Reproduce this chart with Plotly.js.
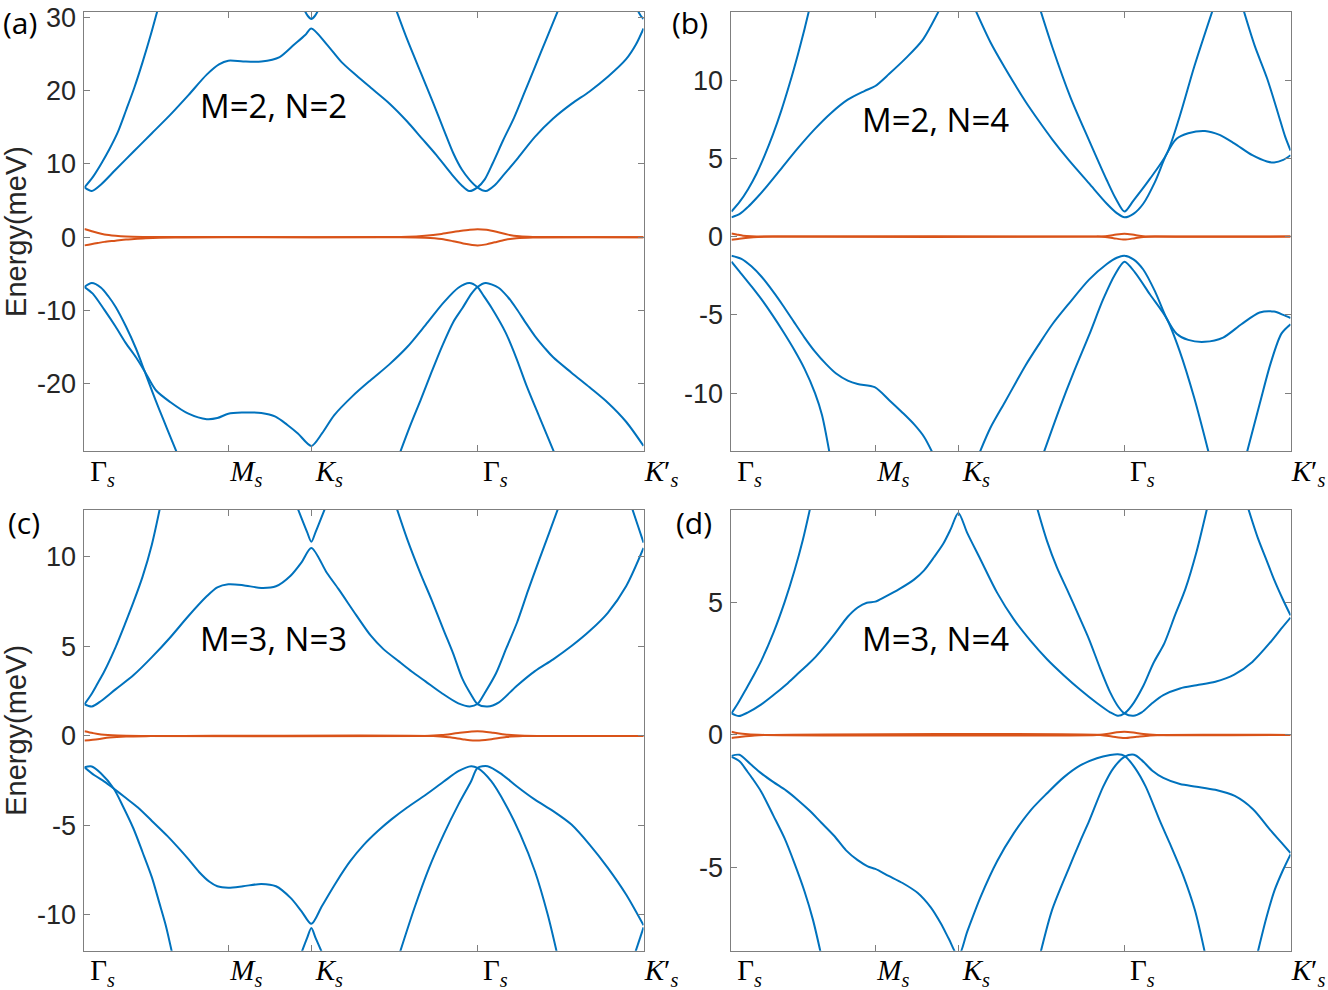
<!DOCTYPE html>
<html>
<head>
<meta charset="utf-8">
<script src="https://cdn.plot.ly/plotly-3.0.1.min.js"></script>
<style>
  html, body { margin: 0; padding: 0; background: #ffffff; }
  #chart { width: 1328px; height: 990px; }
</style>
</head>
<body>
<div id="chart"></div>
<script>
// High-symmetry path: Γs -> Ms -> Ks -> Γs -> K's (path length units)
const kPos = [0, 0.866, 1.366, 2.366, 3.366];
const kLabels = [
  'Γ<sub><i>s</i></sub>',
  '<i>M</i><sub><i>s</i></sub>',
  '<i>K</i><sub><i>s</i></sub>',
  'Γ<sub><i>s</i></sub>',
  '<i>K</i>′<sub><i>s</i></sub>'
];

// Each band is a list of segments, each segment a list of [k, E(meV)] pairs.

// ---------- (a) M=2, N=2 ----------
const aCondA = [[
  [0,6.8],[0.044,6.3],[0.1,7.2],[0.187,9.2],[0.296,11.7],[0.406,14.2],[0.516,16.7],[0.626,19.4],[0.736,22.2],[0.81,23.6],[0.866,24.1],[0.955,24.0],[1.065,24.0],[1.175,24.6],[1.263,26.3],[1.329,27.6],[1.366,28.5],
  [1.46,26.3],[1.548,23.9],[1.636,22.1],[1.724,20.4],[1.834,18.3],[1.943,15.8],[2.031,13.5],[2.119,11.2],[2.207,8.7],[2.27,7.1],[2.317,6.3],[2.366,6.8],
  [2.41,7.9],[2.458,10.1],[2.52,13.2],[2.586,16.3],[2.65,19.8],[2.713,23.3],[2.78,27.0],[2.852,31.0]
]];
const aCondB = [
  [[0,6.8],[0.05,8.2],[0.1,10.0],[0.15,12.0],[0.2,14.3],[0.25,17.3],[0.3,20.4],[0.35,23.9],[0.4,27.7],[0.44,31.0]],
  [[1.322,31.1],[1.345,30.2],[1.366,29.8],[1.387,30.2],[1.41,31.1]],
  [[1.877,31.0],[1.943,27.0],[2.026,22.4],[2.1,18.3],[2.163,14.7],[2.22,11.5],[2.273,9.2],[2.32,7.8],[2.366,6.8],
   [2.416,6.3],[2.47,7.1],[2.52,8.4],[2.602,10.6],[2.712,13.7],[2.822,16.2],[2.932,18.2],[3.041,19.9],[3.151,21.9],[3.261,24.3],[3.32,26.3],[3.366,28.5]],
  [[3.33,31.0],[3.35,30.2],[3.366,29.8]]
];
const aValA = [
  [[0,-6.8],[0.044,-6.26],[0.1,-6.9],[0.145,-8.1],[0.187,-9.5],[0.25,-12.2],[0.31,-15.2],[0.362,-18.3],[0.41,-21.2],[0.45,-23.5],[0.5,-26.3],[0.556,-29.4]],
  [[1.9,-29.4],[1.96,-25.8],[2.026,-22.1],[2.09,-18.4],[2.153,-14.9],[2.22,-11.6],[2.275,-9.7],[2.33,-7.7],[2.366,-6.8],
   [2.416,-6.26],[2.493,-6.9],[2.55,-8.2],[2.602,-9.8],[2.66,-11.8],[2.712,-13.5],[2.77,-15.1],[2.822,-16.4],[2.932,-18.5],[3.041,-20.5],[3.151,-22.6],[3.261,-25.2],[3.366,-28.5]]
];
const aValB = [
  [[0,-6.8],[0.05,-7.7],[0.119,-9.9],[0.187,-12.2],[0.247,-14.4],[0.31,-16.4],[0.362,-18.3],[0.43,-20.9],[0.516,-22.5],[0.626,-24.1],[0.736,-24.85],[0.8,-24.7],[0.866,-24.1],[0.95,-23.95],[1.065,-24.0],[1.15,-24.5],[1.22,-25.6],[1.285,-26.8],[1.366,-28.5],
   [1.43,-26.8],[1.504,-24.3],[1.614,-21.7],[1.724,-19.5],[1.834,-17.4],[1.943,-15.0],[2.053,-12.0],[2.163,-8.9],[2.251,-6.9],[2.317,-6.26],[2.366,-6.8],
   [2.4,-7.9],[2.45,-9.6],[2.535,-13.0],[2.6,-16.5],[2.662,-20.3],[2.74,-24.6],[2.828,-29.4]]
];
const aFlat1 = [[
  [0,1.12],[0.04,0.85],[0.077,0.6],[0.12,0.38],[0.187,0.2],[0.25,0.1],[0.35,0.04],[0.5,0.015],[1.0,0.01],[1.8,0.01],[1.95,0.05],[2.05,0.2],[2.15,0.45],[2.25,0.8],[2.32,1.02],[2.366,1.1],[2.42,1.02],[2.48,0.75],[2.55,0.35],[2.62,0.12],[2.7,0.03],[2.8,0.01],[3.366,0.0]
]];
const aFlat2 = [[
  [0,-1.12],[0.04,-0.95],[0.08,-0.8],[0.12,-0.64],[0.187,-0.48],[0.25,-0.32],[0.3,-0.25],[0.37,-0.15],[0.45,-0.08],[0.6,-0.03],[1.0,-0.01],[1.9,-0.01],[2.05,-0.08],[2.15,-0.25],[2.22,-0.55],[2.28,-0.85],[2.366,-1.12],[2.42,-0.98],[2.47,-0.7],[2.535,-0.35],[2.6,-0.14],[2.7,-0.03],[3.366,0]
]];

// ---------- (b) M=2, N=4 ----------
const bCond1 = [
  [[0,1.23],[0.05,1.45],[0.1,1.9],[0.15,2.45],[0.2,3.05],[0.3,4.35],[0.4,5.65],[0.5,6.85],[0.6,7.9],[0.7,8.75],[0.8,9.3],[0.866,9.62],[0.95,10.4],[1.05,11.4],[1.15,12.55],[1.25,14.45]],
  [[1.472,14.4],[1.56,12.4],[1.645,10.8],[1.713,9.6],[1.772,8.6],[1.85,7.4],[1.932,6.2],[2.03,4.9],[2.153,3.4],[2.26,2.1],[2.32,1.5],[2.366,1.23],
   [2.42,1.45],[2.479,2.1],[2.55,3.5],[2.621,5.3],[2.68,6.25],[2.75,6.6],[2.851,6.75],[2.939,6.5],[3.027,5.96],[3.136,5.2],[3.224,4.8],[3.267,4.74],[3.322,4.9],[3.366,5.2]]
];
const bCond2 = [
  [[0,1.6],[0.05,2.23],[0.1,3.03],[0.15,4.0],[0.2,5.19],[0.25,6.53],[0.3,8.05],[0.35,9.76],[0.4,11.64],[0.44,13.27],[0.47,14.58]],
  [[1.862,14.4],[1.932,12.1],[2.041,8.9],[2.151,6.2],[2.26,3.6],[2.315,2.4],[2.366,1.6],[2.42,2.3],[2.52,3.7],[2.621,5.3],[2.698,7.66],[2.786,10.85],[2.895,14.4]],
  [[3.085,14.4],[3.15,12.2],[3.225,10.1],[3.29,7.9],[3.333,6.4],[3.366,5.5]]
];
const bVal1 = [
  [[0,-1.22],[0.06,-1.42],[0.12,-1.9],[0.18,-2.55],[0.25,-3.5],[0.31,-4.4],[0.376,-5.45],[0.44,-6.45],[0.503,-7.35],[0.57,-8.15],[0.63,-8.75],[0.7,-9.2],[0.76,-9.42],[0.862,-9.62],[0.95,-10.45],[1.03,-11.25],[1.1,-12.0],[1.16,-12.8],[1.21,-13.8]],
  [[1.494,-13.8],[1.56,-12.2],[1.645,-10.6],[1.713,-9.3],[1.772,-8.2],[1.85,-6.9],[1.932,-5.6],[2.03,-4.3],[2.153,-2.75],[2.26,-1.75],[2.32,-1.35],[2.366,-1.22],
   [2.42,-1.45],[2.479,-2.1],[2.55,-3.5],[2.621,-5.25],[2.68,-6.2],[2.75,-6.6],[2.85,-6.72],[2.96,-6.45],[3.07,-5.6],[3.18,-4.85],[3.267,-4.79],[3.322,-5.0],[3.366,-5.2]]
];
const bVal2 = [
  [[0,-1.6],[0.05,-2.25],[0.122,-3.2],[0.18,-4.0],[0.249,-5.05],[0.31,-6.05],[0.376,-7.2],[0.44,-8.45],[0.503,-10.0],[0.545,-11.4],[0.59,-13.8]],
  [[1.88,-13.8],[1.975,-11.0],[2.063,-8.6],[2.153,-6.3],[2.238,-4.0],[2.31,-2.4],[2.366,-1.6],[2.43,-2.3],[2.52,-3.7],[2.621,-5.25],[2.698,-7.3],[2.786,-10.3],[2.873,-13.8]],
  [[3.103,-13.8],[3.18,-10.7],[3.246,-8.1],[3.311,-6.2],[3.366,-5.6]]
];
const bFlat1 = [[
  [0,0.2],[0.03,0.14],[0.07,0.06],[0.12,0.02],[0.2,0.0],[2.2,0.0],[2.25,0.03],[2.3,0.1],[2.366,0.19],[2.43,0.1],[2.48,0.03],[2.55,0.0],[3.366,0.0]
]];
const bFlat2 = [[
  [0,-0.2],[0.04,-0.15],[0.1,-0.07],[0.16,-0.02],[0.25,0.0],[2.2,0.0],[2.25,-0.03],[2.3,-0.1],[2.366,-0.19],[2.43,-0.1],[2.48,-0.03],[2.55,0.0],[3.366,0.0]
]];

// ---------- (c) M=3, N=3 ----------
const cCondA = [[
  [0,1.77],[0.044,1.64],[0.1,1.95],[0.187,2.6],[0.296,3.4],[0.406,4.4],[0.516,5.5],[0.626,6.7],[0.736,7.8],[0.80,8.3],[0.866,8.47],[0.955,8.42],[1.065,8.27],[1.153,8.36],[1.241,8.95],[1.307,9.7],[1.366,10.5],
  [1.46,9.1],[1.53,8.2],[1.636,6.75],[1.724,5.6],[1.8,4.85],[1.895,4.15],[1.97,3.6],[2.053,3.05],[2.15,2.4],[2.251,1.82],[2.32,1.65],[2.366,1.78],
  [2.41,2.4],[2.478,3.5],[2.54,4.9],[2.605,6.35],[2.67,8.1],[2.732,9.7],[2.8,11.4],[2.855,12.8]
]];
const cCondB = [
  [[0,1.77],[0.04,2.3],[0.077,2.9],[0.119,3.6],[0.187,4.95],[0.246,6.3],[0.296,7.5],[0.35,8.9],[0.406,10.7],[0.456,12.8]],
  [[1.28,12.8],[1.34,11.4],[1.366,10.85],[1.392,11.4],[1.452,12.8]],
  [[1.877,12.8],[1.943,11.0],[2.022,9.1],[2.09,7.6],[2.163,5.9],[2.22,4.6],[2.275,3.2],[2.328,2.3],[2.366,1.78],
   [2.427,1.64],[2.493,1.86],[2.602,2.79],[2.712,3.62],[2.822,4.28],[2.932,5.02],[3.041,5.86],[3.151,6.88],[3.261,8.36],[3.366,10.5]],
  [[3.294,12.8],[3.33,11.8],[3.366,10.8]]
];
const cValA = [
  [[0,-1.75],[0.044,-1.71],[0.1,-2.1],[0.176,-2.94],[0.23,-3.9],[0.296,-5.2],[0.35,-6.5],[0.406,-7.9],[0.45,-9.3],[0.49,-10.6],[0.527,-12.1]],
  [[1.307,-12.1],[1.34,-11.3],[1.366,-10.73],[1.392,-11.3],[1.43,-12.1]],
  [[1.899,-12.1],[1.987,-9.6],[2.075,-7.37],[2.163,-5.5],[2.251,-3.84],[2.328,-2.53],[2.366,-1.79],
   [2.427,-1.69],[2.515,-2.16],[2.602,-2.81],[2.712,-3.56],[2.822,-4.2],[2.932,-4.95],[3.041,-6.07],[3.151,-7.37],[3.261,-8.86],[3.366,-10.58]],
  [[3.316,-12.1],[3.366,-10.7]]
];
const cValB = [[
  [0,-1.75],[0.06,-2.2],[0.12,-2.55],[0.176,-2.94],[0.24,-3.4],[0.322,-4.0],[0.406,-4.75],[0.5,-5.6],[0.57,-6.3],[0.627,-6.9],[0.69,-7.6],[0.753,-8.15],[0.8,-8.4],[0.866,-8.48],[0.955,-8.4],[1.065,-8.27],[1.153,-8.4],[1.241,-9.05],[1.307,-9.8],[1.366,-10.5],
  [1.43,-9.5],[1.514,-8.2],[1.6,-7.0],[1.68,-6.1],[1.768,-5.3],[1.85,-4.65],[1.943,-4.0],[2.053,-3.3],[2.163,-2.55],[2.251,-1.97],[2.328,-1.69],[2.366,-1.79],
  [2.449,-2.53],[2.536,-3.84],[2.624,-5.5],[2.712,-7.56],[2.789,-9.98],[2.844,-12.1]
]];
const cFlat1 = [[
  [0,0.26],[0.05,0.16],[0.1,0.08],[0.2,0.02],[0.35,0.0],[2.05,0.0],[2.15,0.05],[2.25,0.16],[2.366,0.26],[2.46,0.18],[2.55,0.06],[2.65,0.01],[2.8,0],[3.366,0]
]];
const cFlat2 = [[
  [0,-0.26],[0.08,-0.18],[0.15,-0.09],[0.25,-0.03],[0.4,-0.01],[0.6,0],[2.1,0],[2.2,-0.08],[2.29,-0.2],[2.366,-0.26],[2.45,-0.18],[2.54,-0.06],[2.64,-0.01],[2.8,0],[3.366,0]
]];

// ---------- (d) M=3, N=4 ----------
const dCondA = [[
  [0,0.81],[0.045,0.71],[0.1,0.85],[0.18,1.15],[0.253,1.5],[0.33,1.9],[0.399,2.3],[0.46,2.65],[0.508,2.95],[0.57,3.4],[0.633,3.9],[0.7,4.45],[0.76,4.8],[0.815,4.98],[0.866,5.02],[0.924,5.2],[1.012,5.5],[1.099,5.85],[1.16,6.2],[1.22,6.7],[1.275,7.2],[1.32,7.75],[1.366,8.36],
  [1.42,7.6],[1.5,6.6],[1.6,5.35],[1.7,4.35],[1.8,3.55],[1.9,2.85],[2.0,2.25],[2.1,1.7],[2.2,1.2],[2.28,0.85],[2.326,0.72],[2.366,0.81],
  [2.41,1.1],[2.48,1.85],[2.54,2.7],[2.606,3.45],[2.67,4.5],[2.733,5.5],[2.8,6.9],[2.864,8.55]
]];
const dCondB = [
  [[0,0.81],[0.04,1.2],[0.09,1.75],[0.13,2.2],[0.18,2.8],[0.253,3.85],[0.32,5.0],[0.38,6.2],[0.43,7.35],[0.474,8.55]],
  [[1.84,8.55],[1.9,7.3],[1.96,6.3],[2.026,5.4],[2.09,4.5],[2.153,3.6],[2.22,2.5],[2.28,1.6],[2.33,1.05],[2.366,0.81],
   [2.42,0.72],[2.47,0.85],[2.534,1.2],[2.6,1.5],[2.7,1.75],[2.8,1.87],[2.913,2.0],[3.027,2.27],[3.136,2.75],[3.246,3.5],[3.31,4.0],[3.366,4.42]],
  [[3.11,8.55],[3.17,7.4],[3.22,6.6],[3.267,5.85],[3.32,5.1],[3.366,4.5]]
];
const dValA = [[
  [0,-0.79],[0.048,-0.75],[0.114,-1.1],[0.18,-1.45],[0.253,-1.78],[0.33,-2.1],[0.399,-2.45],[0.47,-2.85],[0.54,-3.3],[0.618,-3.8],[0.69,-4.35],[0.76,-4.72],[0.82,-4.95],[0.866,-5.05],[0.946,-5.31],[1.03,-5.58],[1.12,-5.95],[1.2,-6.5],[1.26,-7.1],[1.31,-7.7],[1.366,-8.34],
  [1.42,-7.4],[1.5,-6.1],[1.6,-4.75],[1.7,-3.7],[1.8,-2.85],[1.9,-2.2],[2.0,-1.6],[2.1,-1.15],[2.2,-0.88],[2.28,-0.76],[2.326,-0.73],[2.366,-0.79],
  [2.43,-1.25],[2.494,-1.95],[2.58,-3.25],[2.64,-4.1],[2.72,-5.3],[2.79,-6.6],[2.85,-8.2]
]];
const dValB = [
  [[0,-0.83],[0.05,-1.0],[0.092,-1.35],[0.127,-1.65],[0.18,-2.15],[0.253,-3.05],[0.32,-3.9],[0.38,-4.85],[0.44,-5.9],[0.49,-6.95],[0.537,-8.2]],
  [[1.861,-8.2],[1.93,-6.6],[2.026,-5.1],[2.1,-4.0],[2.153,-3.25],[2.238,-1.95],[2.3,-1.25],[2.366,-0.83],
   [2.424,-0.75],[2.47,-0.95],[2.534,-1.35],[2.6,-1.62],[2.7,-1.85],[2.8,-1.95],[2.913,-2.07],[3.03,-2.3],[3.14,-2.8],[3.246,-3.6],[3.31,-4.05],[3.366,-4.45]],
  [[3.168,-8.2],[3.22,-6.9],[3.27,-5.85],[3.32,-5.1],[3.366,-4.5]]
];
const dFlat1 = [[
  [0,0.12],[0.04,0.06],[0.1,0.02],[0.2,0],[2.2,0],[2.27,0.04],[2.32,0.1],[2.366,0.12],[2.42,0.09],[2.48,0.03],[2.56,0],[3.366,0]
]];
const dFlat2 = [[
  [0,-0.12],[0.06,-0.07],[0.14,-0.02],[0.25,0],[2.22,0],[2.29,-0.06],[2.366,-0.12],[2.44,-0.07],[2.52,-0.02],[2.6,0],[3.366,0]
]];

// Axis ranges and tick labels (meV)
const yRanges = [[-29.2, 30.75], [-13.7, 14.35], [-12.0, 12.62], [-8.13, 8.47]];
const yTicks = [
  [-20, -10, 0, 10, 20, 30],
  [-10, -5, 0, 5, 10],
  [-10, -5, 0, 5, 10],
  [-5, 0, 5]
];
const panelTags = ['(a)', '(b)', '(c)', '(d)'];
const panelNotes = ['M=2, N=2', 'M=2, N=4', 'M=3, N=3', 'M=3, N=4'];

const BLUE = '#0072BD';
const ORANGE = '#D95319';

function toXY(segs) {
  const x = [], y = [];
  segs.forEach((seg, i) => {
    if (i > 0) { x.push(null); y.push(null); }
    seg.forEach(p => { x.push(p[0]); y.push(p[1]); });
  });
  return { x, y };
}

const panels = [
  { blue: [aCondA, aCondB, aValA, aValB], orange: [aFlat1, aFlat2] },
  { blue: [bCond1, bCond2, bVal1, bVal2], orange: [bFlat1, bFlat2] },
  { blue: [cCondA, cCondB, cValA, cValB], orange: [cFlat1, cFlat2] },
  { blue: [dCondA, dCondB, dValA, dValB], orange: [dFlat1, dFlat2] }
];

const traces = [];
panels.forEach((p, i) => {
  const xa = i === 0 ? 'x' : 'x' + (i + 1);
  const ya = i === 0 ? 'y' : 'y' + (i + 1);
  const add = (segs, color) => {
    const d = toXY(segs);
    traces.push({
      type: 'scatter', mode: 'lines', x: d.x, y: d.y,
      xaxis: xa, yaxis: ya, connectgaps: false,
      line: { color: color, width: 2, shape: 'spline', smoothing: 0.8 },
      showlegend: false, hoverinfo: 'skip'
    });
  };
  p.blue.forEach(b => add(b, BLUE));
  p.orange.forEach(b => add(b, ORANGE));
});

const FRAME = '#7f7f7f';
const xDomains = [[0.0636, 0.4846], [0.5508, 0.9718], [0.0636, 0.4846], [0.5508, 0.9718]];
const yDomains = [[0.5444, 0.9879], [0.5444, 0.9879], [0.0397, 0.4848], [0.0397, 0.4848]];

const layout = {
  width: 1328, height: 990, autosize: false,
  margin: { l: 0, r: 0, t: 0, b: 0 },
  paper_bgcolor: '#ffffff', plot_bgcolor: '#ffffff',
  showlegend: false,
  annotations: []
};

for (let i = 0; i < 4; i++) {
  const xn = i === 0 ? 'xaxis' : 'xaxis' + (i + 1);
  const yn = i === 0 ? 'yaxis' : 'yaxis' + (i + 1);
  const xa = i === 0 ? 'x' : 'x' + (i + 1);
  const ya = i === 0 ? 'y' : 'y' + (i + 1);
  layout[xn] = {
    domain: xDomains[i], anchor: ya, range: [0, 3.366],
    tickmode: 'array', tickvals: kPos, ticktext: kLabels,
    ticks: 'inside', ticklen: 6, tickwidth: 1, tickcolor: FRAME,
    showline: true, linecolor: FRAME, linewidth: 1, mirror: 'ticks',
    showgrid: false, zeroline: false, fixedrange: true,
    ticklabelshift: 18, ticklabelstandoff: -6,
    tickfont: { family: 'Liberation Serif, Times New Roman, serif', size: 29, color: '#000000' }
  };
  layout[yn] = {
    domain: yDomains[i], anchor: xa, range: yRanges[i],
    tickmode: 'array', tickvals: yTicks[i], ticktext: yTicks[i].map(v => String(v)),
    ticks: 'inside', ticklen: 6, tickwidth: 1, tickcolor: FRAME,
    showline: true, linecolor: FRAME, linewidth: 1, mirror: 'ticks',
    showgrid: false, zeroline: false, fixedrange: true,
    ticklabelstandoff: 2,
    tickfont: { family: 'Liberation Sans, Arial, sans-serif', size: 27, color: '#262626' }
  };
  if (i === 0 || i === 2) {
    layout[yn].title = {
      text: 'Energy(meV)', standoff: 10,
      font: { family: 'Liberation Sans, Arial, sans-serif', size: 29, color: '#262626' }
    };
  }
}

// Panel tags (top-anchored) and parameter notes, in paper coordinates
const tagPos = [[0.0151, 1.0], [0.5196, 1.0], [0.0181, 0.4948], [0.5226, 0.4948]];
const notePos = [[0.2063, 0.8939], [0.7048, 0.8788], [0.2063, 0.3550], [0.7048, 0.3550]];
for (let i = 0; i < 4; i++) {
  layout.annotations.push({
    xref: 'paper', yref: 'paper', x: tagPos[i][0], y: tagPos[i][1],
    text: panelTags[i], showarrow: false, xanchor: 'center', yanchor: 'top',
    font: { family: 'Open Sans, Noto Sans, sans-serif', size: 30, color: '#000000' }
  });
  layout.annotations.push({
    xref: 'paper', yref: 'paper', x: notePos[i][0], y: notePos[i][1],
    text: panelNotes[i], showarrow: false, xanchor: 'center', yanchor: 'middle',
    font: { family: 'Open Sans, Noto Sans, sans-serif', size: 33, color: '#000000' }
  });
}

Plotly.newPlot('chart', traces, layout, { staticPlot: true, displayModeBar: false });
</script>
</body>
</html>
